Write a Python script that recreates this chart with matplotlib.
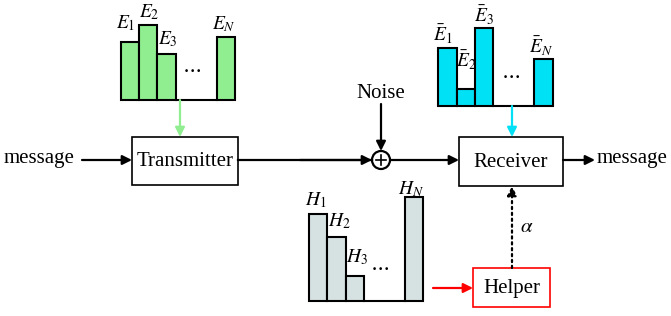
import matplotlib.pyplot as plt
from matplotlib.patches import Rectangle, Circle

plt.rcParams['font.family'] = ['Liberation Serif', 'DejaVu Serif']
plt.rcParams['mathtext.fontset'] = 'stix'

# bar heights (pixels in the picture) for the three little histograms
e_labels = [r'$E_1$', r'$E_2$', r'$E_3$', r'$E_N$']
e_heights = [58, 75, 46, 63]
ebar_labels = [r'$\bar{E}_1$', r'$\bar{E}_2$', r'$\bar{E}_3$', r'$\bar{E}_N$']
ebar_heights = [58, 17, 78, 47]
h_labels = [r'$H_1$', r'$H_2$', r'$H_3$', r'$H_N$']
h_heights = [87, 64, 25, 104]

W, H = 671, 316
fig = plt.figure(figsize=(W / 100, H / 100), dpi=100)
ax = fig.add_axes([0, 0, 1, 1])
ax.set_xlim(0, W)
ax.set_ylim(H, 0)
ax.axis('off')

BW = 18.3


def hist(x0, xN, base, heights, labels, color, lab_pos, dots):
    xs = [x0, x0 + BW, x0 + 2 * BW, xN]
    ax.bar(xs, [-h for h in heights], width=BW, bottom=base, align='edge',
           color=color, edgecolor='black', linewidth=1.5, zorder=3)
    ax.plot([x0 + 3 * BW, xN], [base, base], color='black', lw=1.5, zorder=2)
    for lab, (lx, ly) in zip(labels, lab_pos):
        ax.text(lx, ly, lab, fontsize=14, ha='center', va='center', zorder=4)
    ax.text(dots[0], dots[1], r'$\cdots$', fontsize=15, ha='center', va='center')


hist(120.7, 216.7, 100, e_heights, e_labels, '#90ee90',
     [(126, 23), (149, 12), (168, 39), (224, 24)], (192, 70))
hist(438.3, 534.3, 106, ebar_heights, ebar_labels, '#00e1f5',
     [(443, 34), (466, 60), (484, 15), (541, 46)], (511, 76))
hist(309, 405, 301, h_heights, h_labels, '#d6e2e2',
     [(316, 200), (339, 221), (357, 257), (411, 189)], (380, 268))


def box(x0, y0, x1, y1, text, color='black'):
    ax.add_patch(Rectangle((x0, y0), x1 - x0, y1 - y0, fill=False, edgecolor=color, lw=1.2))
    ax.text((x0 + x1) / 2, (y0 + y1) / 2 + 1, text, fontsize=15, ha='center', va='center')


def arrow(x0, y0, x1, y1, color='black', ls='-'):
    ax.annotate('', xy=(x1, y1), xytext=(x0, y0),
                arrowprops=dict(arrowstyle='-|>', color=color, lw=1.6, ls=ls,
                                mutation_scale=14, shrinkA=0, shrinkB=0))


box(132, 137, 238, 185, 'Transmitter')
box(459, 137, 563, 186, 'Receiver')
box(473, 268, 550, 307, 'Helper', color='red')

# adder
ax.add_patch(Circle((381, 160), 9, fill=False, edgecolor='black', lw=1.6))
ax.plot([376, 386], [160, 160], color='black', lw=1.2)
ax.plot([381, 381], [155, 165], color='black', lw=1.2)

ax.text(4, 159, 'message', fontsize=15, ha='left', va='center')
ax.text(597, 159, 'message', fontsize=15, ha='left', va='center')
ax.text(381, 93, 'Noise', fontsize=15, ha='center', va='center')
ax.text(527, 228, r'$\alpha$', fontsize=15, ha='center', va='center')

arrow(82, 160, 132, 160)
ax.plot([238, 372], [160, 160], color='black', lw=1.6)
arrow(300, 160, 372, 160)
arrow(390, 160, 459, 160)
arrow(563, 160, 595, 160)
arrow(381, 104, 381, 151)
arrow(180, 100, 180, 137, color='#90ee90')
arrow(512, 106, 512, 137, color='#00e1f5')
arrow(512, 268, 512, 186, ls=':')
arrow(433, 288, 473, 288, color='red')

fig.savefig('out.png', dpi=100)
